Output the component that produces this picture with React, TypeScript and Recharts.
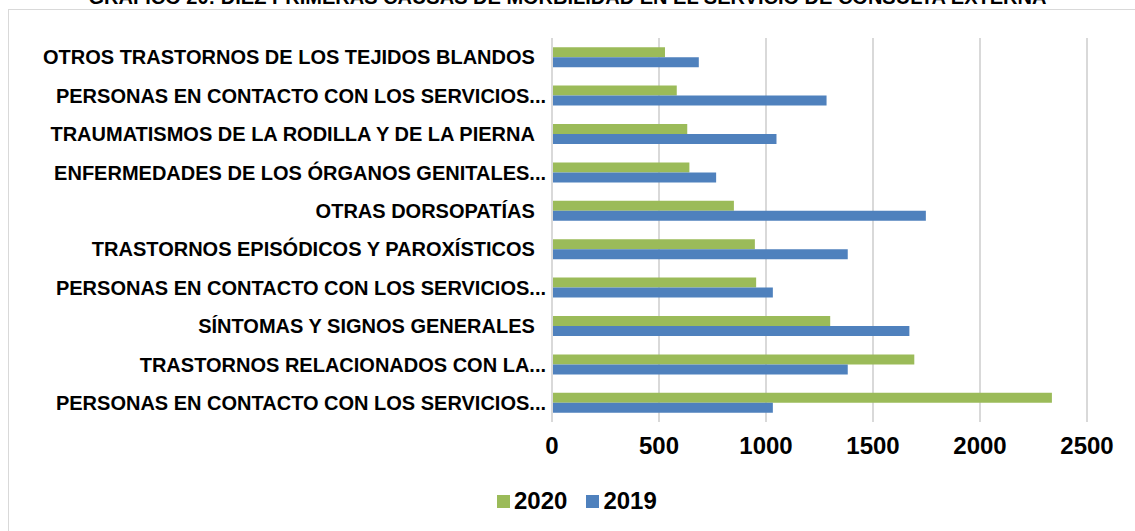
import { BarChart, Bar, XAxis, YAxis, CartesianGrid } from 'recharts';

const causes = [
  'OTROS TRASTORNOS DE LOS TEJIDOS BLANDOS\u00a0\u00a0',
  'PERSONAS EN CONTACTO CON LOS SERVICIOS...',
  'TRAUMATISMOS DE LA RODILLA Y DE LA PIERNA\u00a0\u00a0',
  'ENFERMEDADES DE LOS ÓRGANOS GENITALES...',
  'OTRAS DORSOPATÍAS\u00a0\u00a0',
  'TRASTORNOS EPISÓDICOS Y PAROXÍSTICOS\u00a0\u00a0',
  'PERSONAS EN CONTACTO CON LOS SERVICIOS...',
  'SÍNTOMAS Y SIGNOS GENERALES\u00a0\u00a0',
  'TRASTORNOS RELACIONADOS CON LA...',
  'PERSONAS EN CONTACTO CON LOS SERVICIOS...',
];
const values2020 = [528, 583, 632, 642, 850, 948, 954, 1300, 1693, 2336];
const values2019 = [686, 1283, 1049, 767, 1747, 1382, 1032, 1670, 1382, 1032];
const xTicks = [0, 500, 1000, 1500, 2000, 2500];

const series = [
  { key: 'y2020', name: '2020', color: '#9bbb59' },
  { key: 'y2019', name: '2019', color: '#4f81bd' },
];

const data = causes.map((c, i) => ({
  id: i,
  cause: c,
  y2020: values2020[i],
  y2019: values2019[i],
}));

const FONT = '"Liberation Sans", Arial, sans-serif';

export default function App() {
  return (
    <div style={{ position: 'absolute', left: 0, top: 0, width: 1135, height: 531, overflow: 'hidden', background: '#fff', fontFamily: FONT }}>
      <div
        style={{
          position: 'absolute',
          left: 0,
          right: 0,
          top: -14,
          textAlign: 'center',
          fontWeight: 700,
          fontSize: 20,
          whiteSpace: 'nowrap',
          color: '#000',
        }}
      >
        GRÁFICO 20: DIEZ PRIMERAS CAUSAS DE MORBILIDAD EN EL SERVICIO DE CONSULTA EXTERNA
      </div>
      <div style={{ position: 'absolute', left: 8, top: 9, width: 1200, height: 600, border: '1px solid #d9d9d9' }} />
      <div style={{ position: 'absolute', left: 0, top: 0 }}>
        <BarChart
          width={1135}
          height={531}
          data={data}
          layout="vertical"
          margin={{ top: 38, right: 48, bottom: 69, left: 0 }}
          barCategoryGap="24%"
          barGap={0}
        >
          <CartesianGrid horizontal={false} stroke="#d9d9d9" strokeWidth={2} />
          <XAxis
            type="number"
            domain={[0, 2500]}
            ticks={xTicks}
            axisLine={false}
            tickLine={false}
            tick={{ fontSize: 24, fontWeight: 700, fill: '#000', fontFamily: FONT }}
            tickMargin={9}
            height={40}
          />
          <YAxis
            type="category"
            dataKey="id"
            width={552}
            axisLine={{ stroke: '#d9d9d9', strokeWidth: 2 }}
            tickLine={false}
            tickFormatter={(i: number) => causes[i]}
            tick={{ fontSize: 20, fontWeight: 700, fill: '#000', fontFamily: FONT }}
            tickMargin={0}
            interval={0}
          />
          {series.map((s) => (
            <Bar key={s.key} dataKey={s.key} name={s.name} fill={s.color} isAnimationActive={false} />
          ))}
        </BarChart>
      </div>
      <div style={{ position: 'absolute', left: 497, top: 487, lineHeight: '28px', display: 'flex', alignItems: 'center', fontSize: 24, fontWeight: 700, color: '#000' }}>
        {series.map((s) => (
          <span key={s.key} style={{ display: 'flex', alignItems: 'center', marginRight: 19 }}>
            <span style={{ width: 13, height: 13, background: s.color, display: 'inline-block', marginRight: 4 }} />
            {s.name}
          </span>
        ))}
      </div>
    </div>
  );
}
